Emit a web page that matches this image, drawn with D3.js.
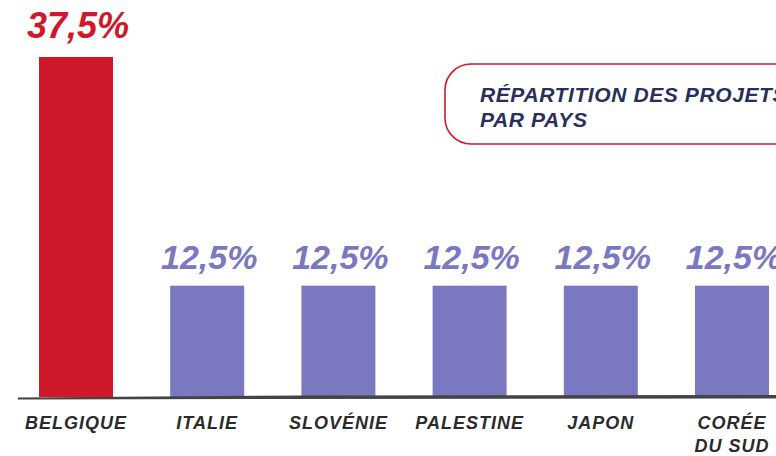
<!DOCTYPE html>
<html><head><meta charset="utf-8">
<script src="https://cdn.jsdelivr.net/npm/d3@7"></script>
<style>body{margin:0;background:#fff;}svg{display:block;}</style>
</head><body>
<script>
const categories = ["BELGIQUE", "ITALIE", "SLOVÉNIE", "PALESTINE", "JAPON", "CORÉE|DU SUD"];
const values = [37.5, 12.5, 12.5, 12.5, 12.5, 12.5];
const valueLabels = ["37,5%", "12,5%", "12,5%", "12,5%", "12,5%", "12,5%"];
const titleLines = ["RÉPARTITION DES PROJETS", "PAR PAYS"];

const W = 776, H = 456;
const svg = d3.select("body").append("svg").attr("width", W).attr("height", H);
const FONT = "'Liberation Sans', Arial, sans-serif";
const RED = "#D0182B", PURPLE = "#7A78C0";

const x = d3.scaleBand().domain(categories).range([39, 769]).paddingInner(0.436).paddingOuter(0);
const y = d3.scaleLinear().domain([0, 37.5]).range([397, 57]);
const barTop = (v, i) => i === 0 ? y(v) : y(v) + 2;

// bars
svg.selectAll("rect.bar").data(categories).join("rect")
  .attr("class", "bar")
  .attr("x", d => x(d))
  .attr("width", x.bandwidth())
  .attr("y", (d, i) => barTop(values[i], i))
  .attr("height", (d, i) => y(0) - barTop(values[i], i))
  .attr("fill", (d, i) => i === 0 ? RED : PURPLE);

// value labels
svg.selectAll("text.val").data(categories).join("text")
  .attr("class", "val")
  .attr("x", d => x(d) + x.bandwidth() / 2 + 2)
  .attr("y", (d, i) => barTop(values[i], i) - (i === 0 ? 19 : 17))
  .attr("text-anchor", "middle")
  .attr("font-family", FONT).attr("font-weight", "bold").attr("font-style", "italic")
  .attr("font-size", (d, i) => i === 0 ? 36 : 34)
  .attr("fill", (d, i) => i === 0 ? RED : PURPLE)
  .text((d, i) => valueLabels[i]);

// axis baseline (rough brush line)
svg.append("path")
  .attr("d", "M18,397.5 L300,395.5 L776,395 L776,398.5 L300,399 L18,399.5 Z")
  .attr("fill", "#444");

// category labels
const lab = svg.selectAll("text.cat").data(categories).join("text")
  .attr("class", "cat")
  .attr("x", d => x(d) + x.bandwidth() / 2)
  .attr("y", 429)
  .attr("text-anchor", "middle")
  .attr("font-family", FONT).attr("font-weight", "bold").attr("font-style", "italic")
  .attr("font-size", 18).attr("letter-spacing", 1).attr("fill", "#2b2b2b");
lab.each(function(d) {
  const parts = d.split("|");
  parts.forEach((p, j) => {
    d3.select(this).append("tspan")
      .attr("x", x(d) + x.bandwidth() / 2)
      .attr("dy", j === 0 ? 0 : 23)
      .text(p);
  });
});

// title box
svg.append("rect")
  .attr("x", 445).attr("y", 64).attr("width", 400).attr("height", 80)
  .attr("rx", 26).attr("ry", 26)
  .attr("fill", "none").attr("stroke", RED).attr("stroke-width", 1.6);
svg.selectAll("text.title").data(titleLines).join("text")
  .attr("class", "title")
  .attr("x", 480)
  .attr("y", (d, i) => 102 + i * 25)
  .attr("font-family", FONT).attr("font-weight", "bold").attr("font-style", "italic")
  .attr("font-size", 21).attr("letter-spacing", 0.6).attr("fill", "#2A2F5A")
  .text(d => d);
</script>
</body></html>
